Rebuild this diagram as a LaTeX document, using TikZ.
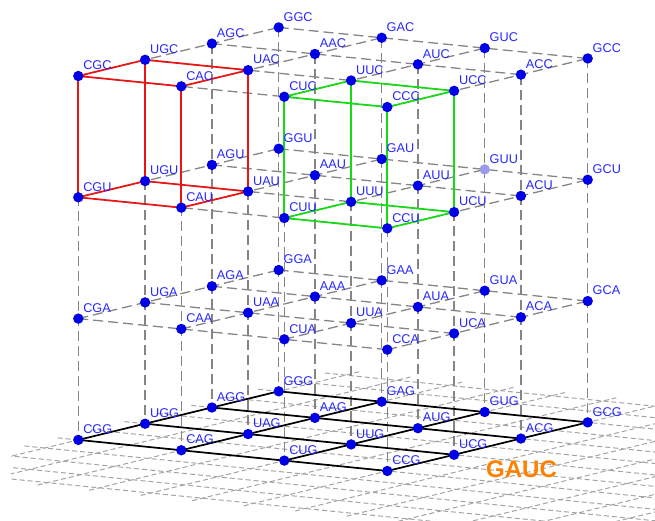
\documentclass[tikz,border=0pt]{standalone}
\usepackage{fontspec}
\setmainfont{Liberation Sans}
\definecolor{ptblue}{RGB}{0,0,230}
\definecolor{lblblue}{RGB}{40,40,255}
\definecolor{lightpt}{RGB}{155,155,235}
\definecolor{redc}{RGB}{235,20,20}
\definecolor{greenc}{RGB}{20,220,20}
\definecolor{gaucor}{RGB}{255,128,0}
\tikzset{
  lattice/.style={draw=black!48, line width=1.3pt, dash pattern=on 10pt off 5pt},
  floorgrid/.style={draw=black!36, line width=1pt, dash pattern=on 5pt off 3pt},
  redcube/.style={draw=redc, line width=1.7pt, line join=round},
  greencube/.style={draw=greenc, line width=1.7pt, line join=round},
  basegrid/.style={draw=black, line width=1.7pt},
  dot/.style={circle, fill=ptblue, inner sep=0pt, minimum size=10.4pt},
  lightdot/.style={circle, fill=lightpt, inner sep=0pt, minimum size=10.4pt},
  lbl/.style={text=lblblue, font=\fontsize{12.7}{14}\selectfont, inner sep=0pt, anchor=base west},
  gaucstyle/.style={text=gaucor, font=\fontsize{24}{26}\selectfont\bfseries, inner sep=0pt, anchor=base west}
}
\begin{document}
\begin{tikzpicture}[x=1pt,y=-1pt]
\useasboundingbox (0,0) rectangle (655,520);
% lattice coordinates: first letter i, second letter j, third letter k
\foreach \a [count=\i from 0] in {C,U,A,G} {
  \foreach \b [count=\j from 0] in {G,A,U,C} {
    \foreach \c [count=\k from 0] in {C,U,A,G} {
      \coordinate (\a\b\c) at ({78.3+66.8*\i+103*\j},{76-16.2*\i+10.35*\j+121.3*\k});
    }
  }
}
% floor grid
\begin{scope}
  \clip (11,0) rectangle (655,520);
  \foreach \u in {-2,-1.5,...,4} {
    \draw[floorgrid] ({78.3+66.8*\u+103*(-0.2)},{439.9-16.2*\u+10.35*(-0.2)}) -- ({78.3+66.8*\u+103*7},{439.9-16.2*\u+10.35*7});
  }
  \foreach \v in {0,0.5,...,7} {
    \draw[floorgrid] ({78.3+66.8*(-2.15)+103*\v},{439.9-16.2*(-2.15)+10.35*\v}) -- ({78.3+66.8*4.2+103*\v},{439.9-16.2*4.2+10.35*\v});
  }
\end{scope}
% dashed lattice lines
\foreach \a in {C,U,A,G} {
  \foreach \c in {C,U,A} {
    \draw[lattice] (\a G\c) -- (\a A\c) -- (\a U\c) -- (\a C\c);
  }
}
\foreach \b in {G,A,U,C} {
  \foreach \c in {C,U,A} {
    \draw[lattice] (C\b\c) -- (U\b\c) -- (A\b\c) -- (G\b\c);
  }
}
\foreach \a in {C,U,A,G} {
  \foreach \b in {G,A,U,C} {
    \draw[lattice] (\a\b C) -- (\a\b U) -- (\a\b A) -- (\a\b G);
  }
}
% bottom layer solid grid
\foreach \a in {C,U,A,G} {
  \draw[basegrid] (\a GG) -- (\a AG) -- (\a UG) -- (\a CG);
}
\foreach \b in {G,A,U,C} {
  \draw[basegrid] (C\b G) -- (U\b G) -- (A\b G) -- (G\b G);
}
% red cube
\draw[redcube] (CGC) -- (UGC) -- (UAC) -- (CAC) -- cycle;
\draw[redcube] (CGU) -- (UGU) -- (UAU) -- (CAU) -- cycle;
\draw[redcube] (CGC) -- (CGU) (UGC) -- (UGU) (UAC) -- (UAU) (CAC) -- (CAU);
% green cube
\draw[greencube] (CUC) -- (UUC) -- (UCC) -- (CCC) -- cycle;
\draw[greencube] (CUU) -- (UUU) -- (UCU) -- (CCU) -- cycle;
\draw[greencube] (CUC) -- (CUU) (UUC) -- (UUU) (UCC) -- (UCU) (CCC) -- (CCU);
% points and labels
\foreach \a in {C,U,A,G} {
  \foreach \b in {G,A,U,C} {
    \foreach \c in {C,U,A,G} {
      \ifnum\pdfstrcmp{\a\b\c}{GUU}=0
        \node[lightdot] (d\a\b\c) at (\a\b\c) {};
      \else
        \node[dot] (d\a\b\c) at (\a\b\c) {};
      \fi
      \node[lbl] (l\a\b\c) at ([xshift=4.8pt,yshift=6.3pt]\a\b\c) {\a\b\c};
    }
  }
}
\node[gaucstyle] (gauc) at (486,477) {GAUC};
\end{tikzpicture}
\end{document}
